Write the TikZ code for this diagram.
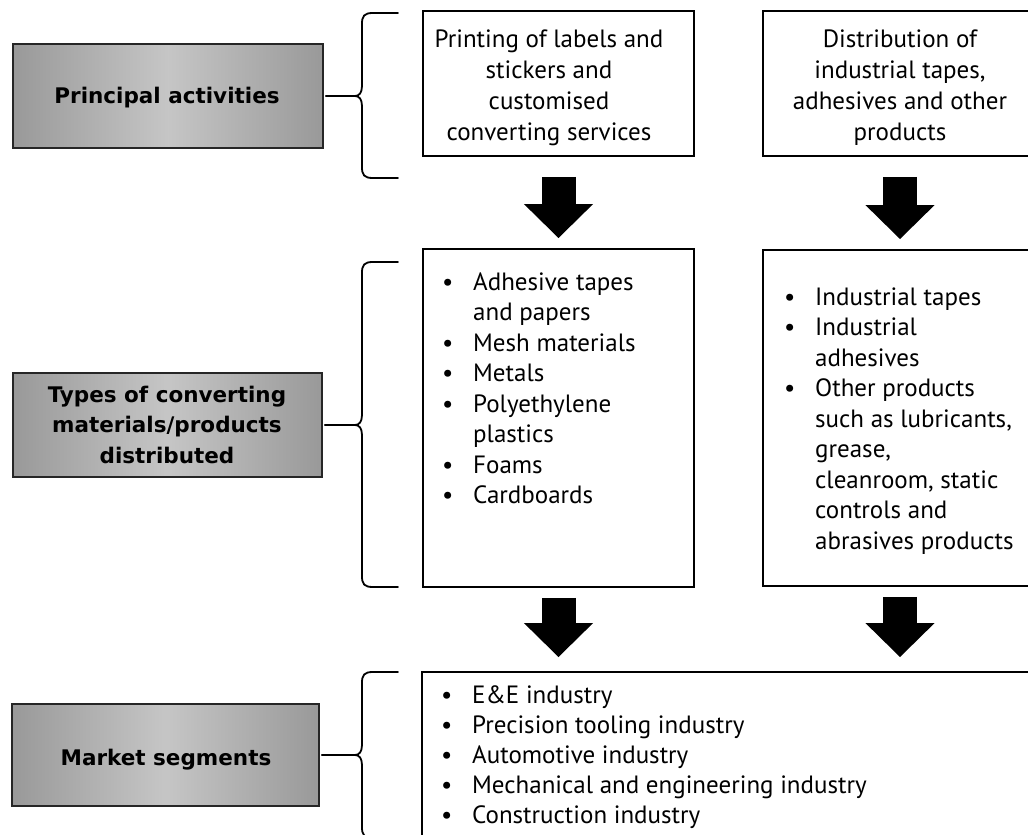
\documentclass[tikz,border=0pt]{standalone}
\usepackage{fontspec}
\setmainfont{PT Sans}
\newfontfamily\labelfont{DejaVu Sans}
\usetikzlibrary{arrows.meta,calc}
\tikzset{
  box/.style={draw=black, line width=1.8pt, fill=white, inner sep=0pt},
  graybox/.style={draw=black!85, line width=1.8pt, inner sep=0pt, left color=gray!80, right color=gray!80, middle color=gray!45},
  lbl/.style={inner sep=0pt, font=\labelfont\fontsize{21.5}{30.5}\selectfont\bfseries},
  bracestyle/.style={line width=1.8pt, line cap=round, line join=round},
  blockarr/.style={line width=34pt, -{Triangle[width=67pt,length=34pt]}},
  txtA/.style={inner sep=0pt, font=\fontsize{25}{31}\selectfont},
  txtB/.style={inner sep=0pt, font=\fontsize{25}{30.5}\selectfont},
  txtC/.style={inner sep=0pt, font=\fontsize{25}{30}\selectfont},
}
\newcommand{\bul}{\makebox[31pt][l]{\textbullet}}
\newcommand{\nob}{\hspace*{31pt}}
\newcommand{\curlybrace}[4]{%
  \draw[bracestyle] ([xshift=2pt]#1.east) -- (355,#2);
  \draw[bracestyle] (398,#3) -- (373,#3) .. controls (364,#3) and (362,#3+3) .. (362,#3+11) -- (362,#2-10) .. controls (362,#2-3) and (359,#2) .. (355,#2) .. controls (359,#2) and (362,#2+3) .. (362,#2+10) -- (362,#4-11) .. controls (362,#4-3) and (364,#4) .. (373,#4) -- (398,#4);
}
\begin{document}
\begin{tikzpicture}[x=1pt,y=-1pt]
\useasboundingbox (0,0) rectangle (1028,835);
\clip (0,0) rectangle (1028,835);
\fill[white] (0,0) rectangle (1028,835);

% left labels
\node[graybox, minimum width=310pt, minimum height=104pt] (G1) at (168,96) {};
\node[graybox, minimum width=309pt, minimum height=104pt] (G2) at (167.5,425) {};
\node[graybox, minimum width=307pt, minimum height=102pt] (G3) at (165.5,755) {};
\node[lbl, anchor=base] (G1t) at (167,103) {Principal activities};
\node[lbl, anchor=base] (G2t) at (167,402) {\begin{tabular}[t]{@{}c@{}}Types of converting\\materials/products\\distributed\end{tabular}};
\node[lbl, anchor=base] (G3t) at (166,765) {Market segments};

% braces
\curlybrace{G1}{96}{13}{178}
\curlybrace{G2}{425}{262}{587}
\curlybrace{G3}{755}{672}{838}

% top row
\node[box, minimum width=271pt, minimum height=145pt] (A1) at (558.5,83.5) {};
\node[box, minimum width=274pt, minimum height=145pt] (A2) at (900,83.5) {};
\node[txtA, anchor=base] (A1t) at (549,47) {\begin{tabular}[t]{@{}c@{}}Printing of labels and\\stickers and\\customised\\converting services\end{tabular}};
\node[txtA, anchor=base] (A2t) at (900,47) {\begin{tabular}[t]{@{}c@{}}Distribution of\\industrial tapes,\\adhesives and other\\products\end{tabular}};

% middle row
\node[box, minimum width=271pt, minimum height=338pt] (B1) at (558.5,418) {};
\node[box, minimum width=274pt, minimum height=336pt] (B2) at (900,418) {};
\node[txtB, anchor=base west] (B1t) at (442,290) {\begin{tabular}[t]{@{}l@{}}\bul Adhesive tapes\\\nob and papers\\\bul Mesh materials\\\bul Metals\\\bul Polyethylene\\\nob plastics\\\bul Foams\\\bul Cardboards\end{tabular}};
\node[txtB, anchor=base west] (B2t) at (784,305) {\begin{tabular}[t]{@{}l@{}}\bul Industrial tapes\\\bul Industrial\\\nob adhesives\\\bul Other products\\\nob such as lubricants,\\\nob grease,\\\nob cleanroom, static\\\nob controls and\\\nob abrasives products\end{tabular}};

% bottom row
\node[box, minimum width=615pt, minimum height=166pt] (C) at (729.5,755) {};
\node[txtC, anchor=base west] (Ct) at (441,703) {\begin{tabular}[t]{@{}l@{}}\bul E\&E industry\\\bul Precision tooling industry\\\bul Automotive industry\\\bul Mechanical and engineering industry\\\bul Construction industry\end{tabular}};

% block arrows
\draw[blockarr] ($(A1.south)+(0,20)$) -- ($(B1.north)+(0,-10)$);
\draw[blockarr] ($(A2.south)+(0,20)$) -- ($(B2.north)+(0,-10)$);
\draw[blockarr] ($(B1.south)+(0,10)$) -- ($(B1.south |- C.north)+(0,-14)$);
\draw[blockarr] ($(B2.south)+(0,10)$) -- ($(B2.south |- C.north)+(0,-14)$);
\end{tikzpicture}
\end{document}
